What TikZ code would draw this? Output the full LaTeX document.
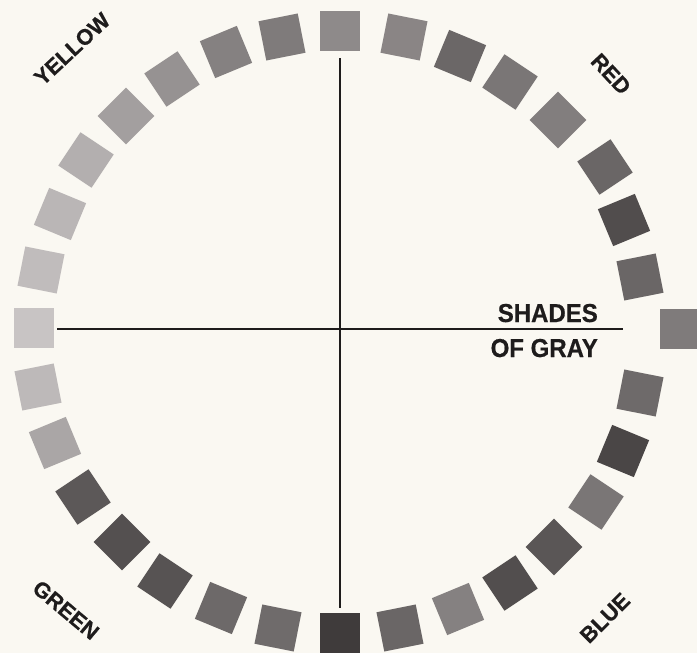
\documentclass[tikz,border=0pt]{standalone}
\usepackage{fontspec}
\setmainfont{Liberation Sans}
\newfontfamily\heavysans[FakeBold=0.6]{Liberation Sans Bold}
\begin{document}
\begin{tikzpicture}[x=1pt,y=-1pt,
  sq/.style={rectangle,draw=none,minimum size=40pt,inner sep=0pt},
  axisline/.style={line width=2.8pt,draw=ink},
  corner/.style={text=ink,font=\fontsize{22}{22}\selectfont\heavysans,inner sep=0pt},
  caption/.style={text=ink,font=\fontsize{24}{24}\selectfont\heavysans,inner sep=0pt,yscale=1.08,transform shape}]
\definecolor{paper}{HTML}{FAF8F2}
\definecolor{ink}{HTML}{1E1C1C}
\fill[paper] (0,0) rectangle (697,653);
\useasboundingbox (0,0) rectangle (697,653);
\foreach \n/\x/\y/\a/\c in {
  0/340/31/90/8E8A8A, 1/404/37/78.75/8A8585, 2/460/56/67.5/6B6767, 3/510/82/56.25/7A7676,
  4/558/120/45/827E7E, 5/605/167/33.75/6A6666, 6/624/220/22.5/514D4D, 7/640/277/11.25/6A6666,
  8/680/329/0/7F7B7B, 9/640/393/-11.25/6E6A6A, 10/623/451/-22.5/4A4646, 11/596/502/-33.75/7A7676,
  12/554/547/-45/5A5656, 13/510/583/-56.25/524E4E, 14/458/609/-67.5/858181, 15/400/628/-78.75/6A6666,
  16/340/633/-90/3F3B3B, 17/278/628/-101.25/6F6B6B, 18/221/608/-112.5/6D6969, 19/165/581/-123.75/575353,
  20/122/542/-135/545050, 21/83/497/-146.25/5C5858, 22/55/443/-157.5/AAA6A6, 23/38/387/-168.75/BDB9B9,
  24/34/328/180/C8C4C4, 25/41/270/168.75/C0BCBC, 26/60/214/157.5/BAB6B6, 27/86/160/146.25/B3AFAF,
  28/126/116/135/A39F9F, 29/172/79/123.75/969292, 30/226/52/112.5/858181, 31/282/37/101.25/7F7B7B}
{
  \definecolor{sqc}{HTML}{\c}
  \node[sq,fill=sqc,rotate=\a] (s\n) at (\x,\y) {};
}
\coordinate (vtop) at (340,58);
\coordinate (vbot) at (340,608);
\coordinate (hleft) at (57,329);
\coordinate (hright) at (623,329);
\draw[axisline] (vtop) -- (vbot);
\draw[axisline] (hleft) -- (hright);
\node[corner,rotate=43] (yellow) at (72,49) {YELLOW};
\node[corner,rotate=-47] (red) at (611,74) {RED};
\node[corner,rotate=-40] (green) at (66,610) {GREEN};
\node[corner,rotate=45] (blue) at (605,618) {BLUE};
\node[caption,anchor=base east] (shades) at (598,322) {SHADES};
\node[caption,anchor=base east] (ofgray) at (598,357) {OF GRAY};
\end{tikzpicture}
\end{document}
